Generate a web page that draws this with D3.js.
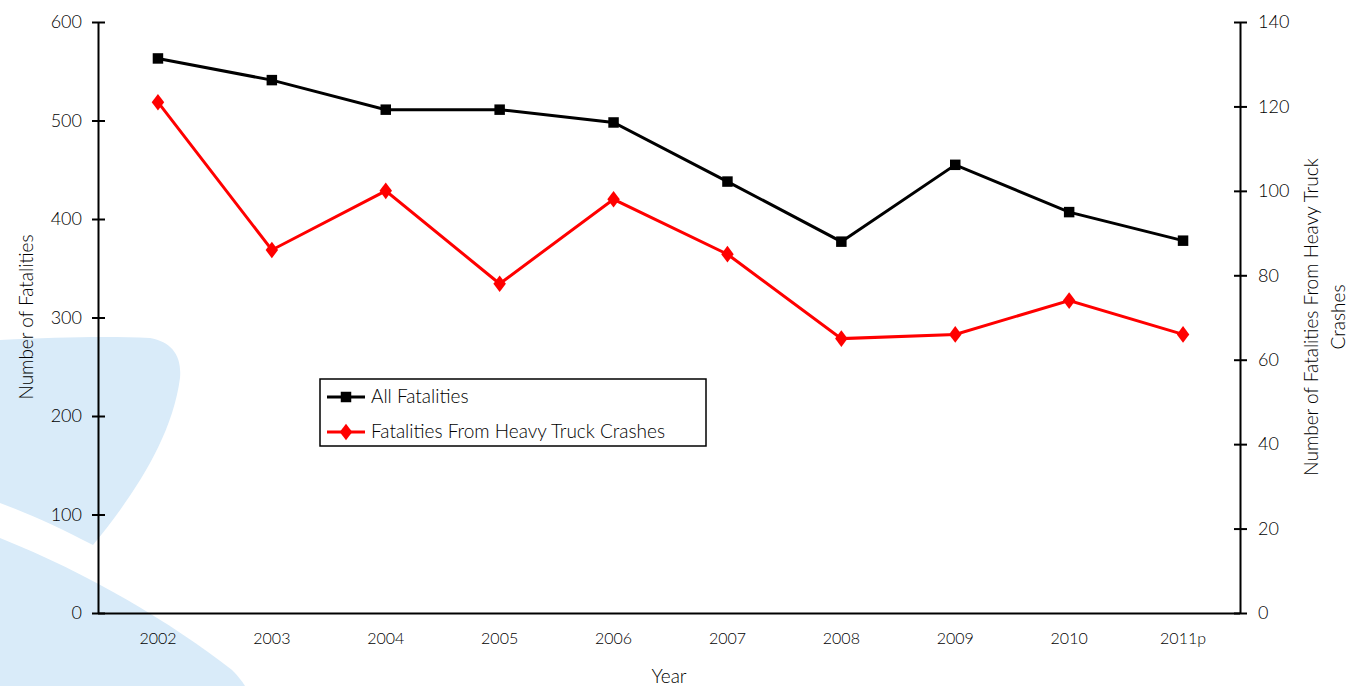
<!DOCTYPE html>
<html>
<head>
<meta charset="utf-8">
<script src="https://cdn.jsdelivr.net/npm/d3@7/dist/d3.min.js"></script>
<style>
  html, body { margin: 0; padding: 0; background: #fff; }
  svg { display: block; font-family: "Lato", "Open Sans", sans-serif; font-weight: 300; }
  .tick text { fill: #000; font-size: 18px; }
</style>
</head>
<body>
<svg id="chart" width="1349" height="686"></svg>
<script>
// Data
const years = ["2002", "2003", "2004", "2005", "2006", "2007", "2008", "2009", "2010", "2011p"];
const allFatalities = [563, 541, 511, 511, 498, 438, 377, 455, 407, 378];
const truckFatalities = [121, 86, 100, 78, 98, 85, 65, 66, 74, 66];
const leftTicks = [0, 100, 200, 300, 400, 500, 600];
const rightTicks = [0, 20, 40, 60, 80, 100, 120, 140];
const seriesNames = ["All Fatalities", "Fatalities From Heavy Truck Crashes"];

const svg = d3.select("#chart");
const margin = { left: 98, right: 1240, top: 22, bottom: 613 };

// Decorative background swooshes
const bg = svg.append("g").attr("fill", "#d9ebf9");
bg.append("path").attr("d",
  "M0,340 C60,337 110,336 150,338 C172,342 182,356 180,378 C172,440 130,500 93,545 C60,528 30,514 0,503 Z");
bg.append("path").attr("d",
  "M0,538 C90,574 170,622 232,670 C238,676 242,681 245,686 L0,686 Z");

const x = d3.scaleBand().domain(years).range([margin.left + 3, margin.right]);
const yL = d3.scaleLinear().domain([0, 600]).range([margin.bottom, margin.top]);
const yR = d3.scaleLinear().domain([0, 140]).range([margin.bottom, margin.top]);
const cx = d => x(d) + x.bandwidth() / 2;

// Axes
const axisL = svg.append("g").attr("transform", `translate(${margin.left},0)`)
  .call(d3.axisLeft(yL).tickValues(leftTicks).tickSize(0).tickPadding(16));
const axisR = svg.append("g").attr("transform", `translate(${margin.right},0)`)
  .call(d3.axisRight(yR).tickValues(rightTicks).tickSize(0).tickPadding(18));
[axisL, axisR].forEach(a => {
  a.select(".domain").attr("stroke", "#000").attr("stroke-width", 2);
  a.selectAll(".tick").append("line").attr("x1", -6).attr("x2", 7)
    .attr("stroke", "#000").attr("stroke-width", 2);
});
const axisX = svg.append("g").attr("transform", `translate(0,${margin.bottom})`)
  .call(d3.axisBottom(x).tickSize(0).tickPadding(20).tickSizeOuter(0));
axisX.select(".domain").attr("stroke", "#000").attr("stroke-width", 2)
  .attr("d", `M${margin.left},0.5H${margin.right}`);
axisX.selectAll(".tick text").style("font-size", "16px");
svg.selectAll(".tick text").attr("font-family", "Lato, 'Open Sans', sans-serif");

// Axis titles
svg.append("text").attr("transform", "translate(33,317) rotate(-90)")
  .attr("text-anchor", "middle").attr("fill", "#000").style("font-size", "19px")
  .text("Number of Fatalities");
const rt = svg.append("text").attr("transform", "translate(1318,317) rotate(-90)")
  .attr("text-anchor", "middle").attr("fill", "#000").style("font-size", "19px");
rt.append("tspan").attr("x", 0).attr("dy", 0).text("Number of Fatalities From Heavy Truck");
rt.append("tspan").attr("x", 0).attr("dy", 27).text("Crashes");
svg.append("text").attr("x", 669).attr("y", 683).attr("text-anchor", "middle")
  .attr("fill", "#000").style("font-size", "19px").text("Year");

// Lines
const lineL = d3.line().x((d, i) => cx(years[i])).y(d => yL(d));
const lineR = d3.line().x((d, i) => cx(years[i])).y(d => yR(d));
svg.append("path").datum(truckFatalities).attr("d", lineR)
  .attr("fill", "none").attr("stroke", "#ff0000").attr("stroke-width", 3);
svg.append("path").datum(allFatalities).attr("d", lineL)
  .attr("fill", "none").attr("stroke", "#000").attr("stroke-width", 3);

const square = d3.symbol().type(d3.symbolSquare).size(110);
const diamond = d3.symbol().type(d3.symbolDiamond).size(80);
svg.append("g").selectAll("path").data(allFatalities).join("path")
  .attr("d", square).attr("fill", "#000")
  .attr("transform", (d, i) => `translate(${cx(years[i])},${yL(d)})`);
svg.append("g").selectAll("path").data(truckFatalities).join("path")
  .attr("d", diamond).attr("fill", "#ff0000")
  .attr("transform", (d, i) => `translate(${cx(years[i])},${yR(d)}) scale(1.3,1)`);

// Legend
const lg = svg.append("g").attr("transform", "translate(320,379)");
lg.append("rect").attr("width", 386).attr("height", 67)
  .attr("fill", "#fff").attr("stroke", "#000").attr("stroke-width", 1.5);
const colors = ["#000", "#ff0000"];
const syms = [square, diamond];
seriesNames.forEach((name, i) => {
  const yy = 18 + i * 35;
  lg.append("line").attr("x1", 7).attr("x2", 45).attr("y1", yy).attr("y2", yy)
    .attr("stroke", colors[i]).attr("stroke-width", 3);
  lg.append("path").attr("d", syms[i]).attr("fill", colors[i])
    .attr("transform", `translate(26,${yy})` + (i === 1 ? " scale(1.3,1)" : ""));
  lg.append("text").attr("x", 51).attr("y", yy + 6).attr("fill", "#000")
    .style("font-size", "19px").text(name);
});
</script>
</body>
</html>
